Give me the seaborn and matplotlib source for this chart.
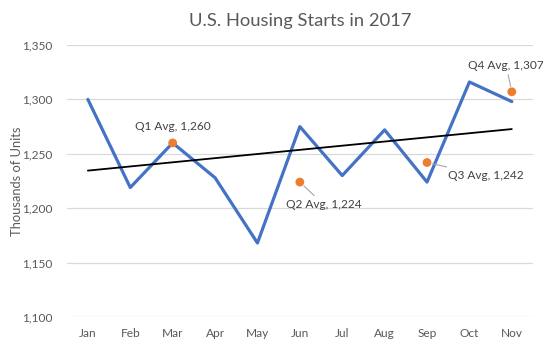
import numpy as np
import pandas as pd
import matplotlib
matplotlib.use("Agg")
import matplotlib.pyplot as plt
import seaborn as sns
from matplotlib.ticker import FuncFormatter

months = ["Jan", "Feb", "Mar", "Apr", "May", "Jun", "Jul", "Aug", "Sep", "Oct", "Nov"]
starts = [1300, 1219, 1260, 1228, 1168, 1275, 1230, 1272, 1224, 1316, 1298]
quarter_labels = ["Q1 Avg", "Q2 Avg", "Q3 Avg", "Q4 Avg"]
quarter_months = ["Mar", "Jun", "Sep", "Nov"]
quarter_avgs = [1260, 1224, 1242, 1307]
y_ticks = [1100, 1150, 1200, 1250, 1300, 1350]

sns.set_theme(style="white")
plt.rcParams['font.family'] = ['Lato', 'DejaVu Sans']

df = pd.DataFrame({"pos": np.arange(len(months)), "month": months, "starts": starts})
qdf = pd.DataFrame({"pos": [months.index(m) for m in quarter_months],
                    "avg": quarter_avgs, "label": quarter_labels})

fig = plt.figure(figsize=(5.43, 3.47), dpi=100)
ax = fig.add_axes([0.1228, 0.0865, 0.8588, 0.7838])

gray = "#595959"
ax.set_ylim(1100, 1350)
ax.set_xlim(-0.5, len(months) - 0.5)
ax.set_yticks(y_ticks)
ax.yaxis.set_major_formatter(FuncFormatter(lambda v, p: f"{int(v):,}"))
ax.grid(axis="y", color="#D9D9D9", linewidth=0.9)
ax.set_axisbelow(True)
for s in ax.spines.values():
    s.set_visible(False)

sns.lineplot(data=df, x="pos", y="starts", ax=ax, color="#4472C4", linewidth=2.3, zorder=3)
sns.regplot(data=df, x="pos", y="starts", ax=ax, scatter=False, ci=None,
            line_kws=dict(color="black", linewidth=1.3, zorder=4), truncate=True)
sns.scatterplot(data=qdf, x="pos", y="avg", ax=ax, color="#ED7D31", s=40,
                edgecolor="none", zorder=5)

ax.set_xticks(df["pos"])
ax.set_xticklabels(months)
ax.tick_params(axis="both", length=0, labelsize=8.6, labelcolor=gray, pad=8)
ax.tick_params(axis="y", pad=10)
ax.set_xlabel("")
ax.set_ylabel("Thousands of Units", fontsize=9.3, color=gray)
ax.yaxis.set_label_coords(-0.094, 0.5)
ax.set_title("U.S. Housing Starts in 2017", fontsize=13.2, color=gray, pad=14)

lead = dict(arrowstyle="-", color="#A6A6A6", linewidth=0.8, shrinkA=0, shrinkB=4)
offsets = [(0, 11.5, "center"), (17, -16, "center"), (15, -9.5, "left"), (-4, 18.6, "center")]
for (_, r), (dx, dy, ha) in zip(qdf.iterrows(), offsets):
    txt = f"{r['label']}, {int(r['avg']):,}"
    if r["label"] == "Q1 Avg":
        ax.annotate(txt, (r["pos"], r["avg"]), xytext=(dx, dy), textcoords="offset points",
                    ha=ha, va="center", fontsize=8.6, color="#404040")
    else:
        ax.annotate(txt, (r["pos"], r["avg"]), xytext=(dx, dy), textcoords="offset points",
                    ha=ha, va="center", fontsize=8.6, color="#404040",
                    arrowprops=lead)

fig.savefig("out.png", dpi=100)
